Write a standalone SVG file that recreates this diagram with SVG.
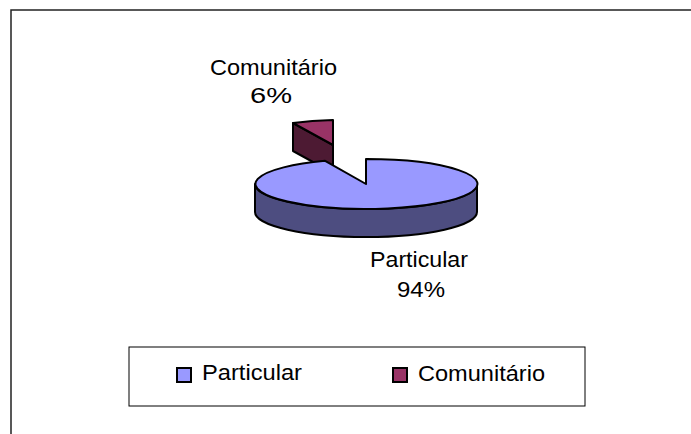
<svg xmlns="http://www.w3.org/2000/svg" width="691" height="434" viewBox="0 0 691 434">
<style>
  .t { font-family: "Liberation Sans", Arial, sans-serif; font-size: 22px; fill: #000; }
  .edge { stroke: #000; stroke-width: 2; stroke-linejoin: round; }
  .box { fill: #fff; stroke: #000; stroke-width: 1; }
</style>
<rect width="691" height="434" fill="#fff"/>
<g id="frame">
  <rect x="11" y="10" width="700" height="450" fill="#fff" stroke="#222" stroke-width="1.5"/>
</g>
<g id="slice-comunitario">
  <path class="edge" fill="#4d1a33" d="M293,123 L333,145 L333,173 L293,151 Z"/>
  <path class="edge" fill="#993366" d="M333,145 L333,120 A111,25 0 0 0 293,123 Z"/>
</g>
<g id="slice-particular">
  <path class="edge" fill="#4d4d80" d="M255,184 A111,25 0 0 0 477,184 L477,212 A111,25 0 0 1 255,212 Z"/>
  <path class="edge" fill="#9999ff" d="M366,184 L366,159 A111,25 0 1 1 325.1,160.8 Z"/>
</g>
<g id="labels">
  <text class="t" x="210" y="75" textLength="127" lengthAdjust="spacingAndGlyphs">Comunitário</text>
  <text class="t" x="250" y="103" textLength="42" lengthAdjust="spacingAndGlyphs">6%</text>
  <text class="t" x="370" y="267" textLength="98" lengthAdjust="spacingAndGlyphs">Particular</text>
  <text class="t" x="397" y="297" textLength="48" lengthAdjust="spacingAndGlyphs">94%</text>
</g>
<g id="legend">
  <rect class="box" x="129" y="347" width="456" height="59"/>
  <rect x="177" y="368" width="14" height="14" fill="#9999ff" stroke="#000" stroke-width="2"/>
  <text class="t" x="202" y="380" textLength="100" lengthAdjust="spacingAndGlyphs">Particular</text>
  <rect x="393" y="368" width="14" height="14" fill="#993366" stroke="#000" stroke-width="2"/>
  <text class="t" x="418" y="381" textLength="127" lengthAdjust="spacingAndGlyphs">Comunitário</text>
</g>
<g id="connectors"></g>
</svg>
